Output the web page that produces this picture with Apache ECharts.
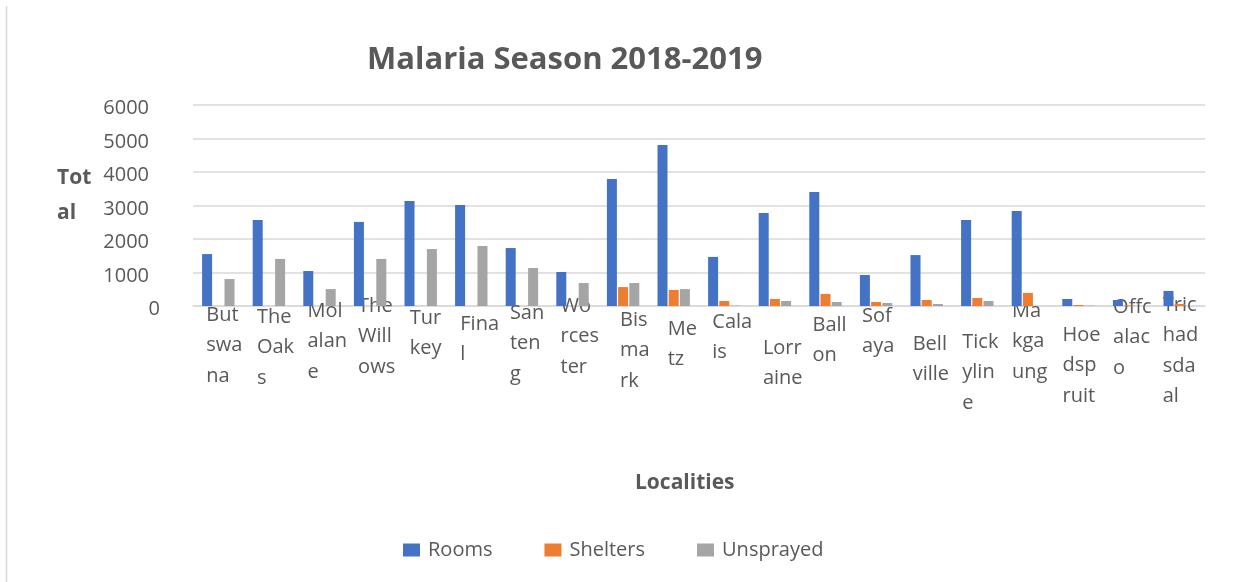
<!DOCTYPE html>
<html>
<head>
<meta charset="utf-8">
<title>Malaria Season 2018-2019</title>
<script src="https://cdn.jsdelivr.net/npm/echarts@6/dist/echarts.min.js"></script>
<style>
  html, body { margin: 0; padding: 0; background: #ffffff; }
  #chart { width: 1236px; height: 582px; }
</style>
</head>
<body>
<div id="chart"></div>
<script>
// Localities, with the line breaks used for their axis labels
const categories = [
  'But\nswa\nna', 'The\nOak\ns', 'Mol\nalan\ne', 'The\nWill\nows', 'Tur\nkey',
  'Fina\nl', 'San\nten\ng', 'Wo\nrces\nter', 'Bis\nma\nrk', 'Me\ntz',
  'Cala\nis', 'Lorr\naine', 'Ball\non', 'Sof\naya', 'Bell\nville',
  'Tick\nylin\ne', 'Ma\nkga\nung', 'Hoe\ndsp\nruit', 'Offc\nalac\no', 'Tric\nhad\nsda\nal'
];

// Sprayed rooms, sprayed shelters and unsprayed structures per locality
const rooms     = [1550, 2570, 1045, 2510, 3135, 3015, 1730, 1015, 3790, 4805, 1465, 2775, 3405, 925, 1520, 2570, 2835, 210, 180, 450];
const shelters  = [0, 0, 0, 0, 0, 0, 0, 0, 565, 480, 150, 210, 360, 120, 180, 240, 390, 30, 20, 60];
const unsprayed = [805, 1405, 505, 1405, 1700, 1790, 1135, 685, 685, 505, 10, 150, 120, 90, 60, 150, 0, 10, 0, 0];

const seriesNames = ['Rooms', 'Shelters', 'Unsprayed'];
const yTicks = { min: 0, max: 6000, interval: 1000 };

// Label placement tweaks (vertical drop and horizontal nudge of each category label)
const labelDrop  = [-6, -4, -10, -15, -3, 3, -8, -15, -1, 8, 1, 27, 4, -5, 23, 21, -10, 14, -14, -16];
const labelNudge = [-12, -12, -12, -12, -11, -11, -12, -12, -3, -6, -12, -12, -13, -14, -14, -15, -16, -16, -16, -17];

const TEXT = '#595959';
const FONT = 'Open Sans';

const chart = echarts.init(document.getElementById('chart'), null, { renderer: 'canvas' });

const option = {
  animation: false,
  backgroundColor: '#ffffff',
  textStyle: { fontFamily: FONT, color: TEXT },
  color: ['#4472C4', '#ED7D31', '#A5A5A5'],
  title: [
    {
      text: 'Malaria Season 2018-2019',
      left: 367, top: 45, padding: 0,
      textStyle: { fontFamily: FONT, fontSize: 31, fontWeight: 'bold', color: TEXT }
    },
    {
      text: 'Localities',
      left: 635, top: 473, padding: 0,
      textStyle: { fontFamily: FONT, fontSize: 21, fontWeight: 'bold', color: TEXT }
    },
    {
      text: 'Tot\nal',
      left: 57, top: 161, padding: 0,
      textStyle: { fontFamily: FONT, fontSize: 21, fontWeight: 'bold', color: TEXT, lineHeight: 35 }
    }
  ],
  legend: {
    data: seriesNames,
    left: 403, top: 540,
    padding: 0,
    itemWidth: 17, itemHeight: 13,
    itemGap: 52,
    icon: 'rect',
    textStyle: { fontFamily: FONT, fontSize: 20, color: TEXT, padding: [0, 0, 0, 3] }
  },
  grid: { left: 193, right: 31, top: 105, bottom: 276, containLabel: false },
  xAxis: {
    type: 'category',
    data: categories.map((c, i) => ({
      value: c,
      textStyle: { align: 'left', padding: [labelDrop[i], 0, 0, labelNudge[i]] }
    })),
    axisLine: { show: true, lineStyle: { color: '#d9d9d9', width: 1.5 } },
    axisTick: { show: false },
    axisLabel: {
      interval: 0,
      margin: 0,
      align: 'left',
      verticalAlign: 'top',
      fontFamily: FONT,
      fontSize: 20,
      lineHeight: 30.5,
      color: TEXT
    }
  },
  yAxis: {
    type: 'value',
    min: yTicks.min, max: yTicks.max, interval: yTicks.interval,
    axisLine: { show: false },
    axisTick: { show: false },
    splitLine: { lineStyle: { color: '#d9d9d9', width: 1.5 } },
    axisLabel: {
      margin: 33,
      fontFamily: FONT,
      fontSize: 20,
      color: TEXT,
      formatter: v => (v === 0 ? '{z|0}' : '{n|' + v + '}'),
      rich: {
        n: { fontFamily: FONT, fontSize: 20, color: TEXT, padding: [7, 11, 0, 0] },
        z: { fontFamily: FONT, fontSize: 20, color: TEXT, padding: [7, 0, 0, 0] }
      }
    }
  },
  graphic: [
    {
      type: 'line',
      shape: { x1: 6.5, y1: 6, x2: 6.5, y2: 582 },
      style: { stroke: '#d9d9d9', lineWidth: 1.5 },
      silent: true
    }
  ],
  series: [
    { name: seriesNames[0], type: 'bar', data: rooms, barWidth: 10, barGap: '12%' },
    { name: seriesNames[1], type: 'bar', data: shelters, barWidth: 10, barGap: '12%' },
    { name: seriesNames[2], type: 'bar', data: unsprayed, barWidth: 10, barGap: '12%' }
  ]
};

chart.setOption(option);
</script>
</body>
</html>
